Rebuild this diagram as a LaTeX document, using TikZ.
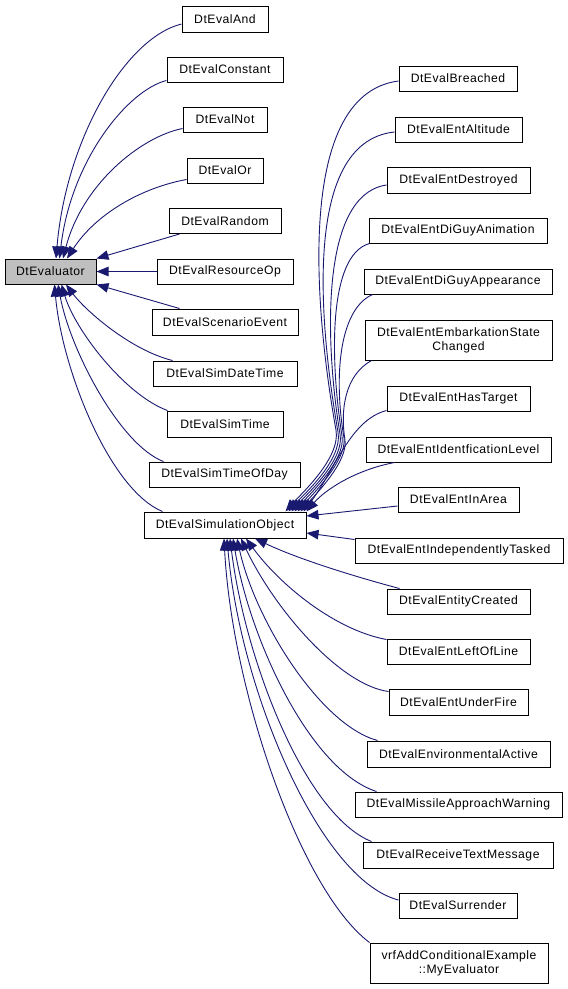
\documentclass[tikz,border=0pt]{standalone}
\usepackage{fontspec}
\setmainfont{Liberation Sans}[LetterSpace=4]
\usetikzlibrary{arrows.meta}
\definecolor{edgecol}{HTML}{191970}
\definecolor{basefill}{HTML}{BFBFBF}
\newcommand\mkbox[6]{\node[bx,minimum width={(#4-#2)*1pt},minimum height={(#5-#3)*1pt}] (#1) at ({(#2+#4)/2},{(#3+#5)/2}) {#6};}
\begin{document}
\begin{tikzpicture}[x=1pt,y=-1pt,
  bx/.style={draw=black,line width=1pt,inner sep=0pt,align=center,fill=white,
    font=\fontsize{12.2}{14.3}\selectfont},
  inh/.style={draw=edgecol,line width=0.9pt,-{Triangle[length=12pt,width=9.5pt]}}]
\useasboundingbox (0,0) rectangle (568,989);
% left column
\node[bx,fill=basefill,minimum width=91pt,minimum height=25pt] (ev) at (50.5,271.5) {DtEvaluator};
\mkbox{and}{182}{6}{268}{32}{DtEvalAnd}
\mkbox{con}{167}{57}{283}{82}{DtEvalConstant}
\mkbox{not}{183}{107}{267}{132}{DtEvalNot}
\mkbox{or}{187}{158}{263}{183}{DtEvalOr}
\mkbox{rnd}{169}{208.5}{281}{233.5}{DtEvalRandom}
\mkbox{rop}{157}{259}{293}{284}{DtEvalResourceOp}
\mkbox{sce}{152}{309}{298}{335}{DtEvalScenarioEvent}
\mkbox{sdt}{153}{361}{297}{386}{DtEvalSimDateTime}
\mkbox{stm}{167}{411}{283}{437}{DtEvalSimTime}
\mkbox{sod}{149}{462}{300}{487}{DtEvalSimTimeOfDay}
\mkbox{so}{144}{512}{306}{538}{DtEvalSimulationObject}
% right column
\mkbox{br}{399}{66}{517}{91}{DtEvalBreached}
\mkbox{alt}{395}{117}{522}{142}{DtEvalEntAltitude}
\mkbox{des}{387}{167}{530}{193}{DtEvalEntDestroyed}
\mkbox{dga}{369}{218}{547}{243}{DtEvalEntDiGuyAnimation}
\mkbox{dgp}{364}{269}{552}{294}{DtEvalEntDiGuyAppearance}
\mkbox{emb}{365}{320}{552}{360}{DtEvalEntEmbarkationState\\Changed}
\mkbox{hst}{387}{386}{530}{411}{DtEvalEntHasTarget}
\mkbox{idl}{366}{437}{551}{462}{DtEvalEntIdentficationLevel}
\mkbox{ina}{398}{487}{519}{512}{DtEvalEntInArea}
\mkbox{ind}{355}{538}{563}{563}{DtEvalEntIndependentlyTasked}
\mkbox{ec}{387}{589}{530}{614}{DtEvalEntityCreated}
\mkbox{lol}{387}{639}{530}{664}{DtEvalEntLeftOfLine}
\mkbox{uf}{389}{689}{528}{715}{DtEvalEntUnderFire}
\mkbox{env}{367}{741}{550}{767}{DtEvalEnvironmentalActive}
\mkbox{mis}{355}{792}{562}{817}{DtEvalMissileApproachWarning}
\mkbox{rtm}{363}{842}{553}{868}{DtEvalReceiveTextMessage}
\mkbox{sur}{399}{893}{517}{918}{DtEvalSurrender}
\mkbox{vrf}{370}{943}{548}{983}{vrfAddConditionalExample\\::MyEvaluator}
% edges to DtEvaluator
\draw[inh] ([yshift=-5pt]and.west) .. controls (125,38) and (66,140) .. ([xshift=5.5pt]ev.north);
\draw[inh] ([yshift=2pt]con.south west) .. controls (128,90) and (71,160) .. ([xshift=9pt]ev.north);
\draw[inh] ([yshift=4pt]not.south west) .. controls (140,137) and (82,185) .. ([xshift=12.5pt]ev.north);
\draw[inh] ([yshift=4pt]or.south west) .. controls (140,188) and (95,215) .. ([xshift=16.5pt]ev.north);
\draw[inh] ([xshift=11pt]rnd.south west) -- (ev.north east);
\draw[inh] (rop.west) -- (ev.east);
\draw[inh] ([xshift=28pt]sce.north west) -- (ev.south east);
\draw[inh] ([xshift=20pt]sdt.north west) .. controls (130,350) and (85,310) .. ([xshift=15.5pt]ev.south);
\draw[inh] ([xshift=1pt]stm.north west) .. controls (125,395) and (75,330) .. ([xshift=11pt]ev.south);
\draw[inh] ([xshift=15pt]sod.north west) .. controls (120,445) and (70,350) .. ([xshift=7.5pt]ev.south);
\draw[inh] ([xshift=19pt]so.north west) .. controls (110,490) and (62,370) .. ([xshift=4pt]ev.south);
% edges to DtEvalSimulationObject (top)
\draw[inh] ([yshift=-2.5pt]br.west) .. controls (290,95) and (318,330) .. (336,430) .. controls (341,458) and (300,495) .. ([xshift=-21pt]so.north east);
\draw[inh] ([yshift=-2.5pt]alt.west) .. controls (298,142) and (322,340) .. (338,432) .. controls (343,460) and (303,495) .. ([xshift=-18pt]so.north east);
\draw[inh] ([yshift=-5pt]des.west) .. controls (318,195) and (326,350) .. (340,434) .. controls (345,460) and (306,495) .. ([xshift=-15pt]so.north east);
\draw[inh] ([xshift=1pt]dga.south west) .. controls (328,255) and (330,360) .. (342,436) .. controls (346,460) and (309,495) .. ([xshift=-12pt]so.north east);
\draw[inh] ([xshift=9pt]dgp.south west) .. controls (338,310) and (334,380) .. (344,438) .. controls (347,460) and (312,495) .. ([xshift=-9pt]so.north east);
\draw[inh] ([xshift=7pt]emb.south west) .. controls (345,375) and (340,410) .. (345,440) .. controls (348,462) and (315,495) .. ([xshift=-6pt]so.north east);
\draw[inh] ([yshift=1pt]hst.south west) .. controls (350,420) and (335,470) .. ([xshift=-3pt]so.north east);
\draw[inh] ([xshift=29pt]idl.south west) .. controls (355,470) and (325,490) .. (so.north east);
\draw[inh] ([yshift=-6.5pt]ina.west) -- ([yshift=9pt]so.east);
\draw[inh] ([yshift=-2pt]ind.north west) -- ([yshift=-8pt]so.east);
% edges to DtEvalSimulationObject (bottom)
\draw[inh] ([xshift=13pt]ec.north west) .. controls (360,578) and (300,560) .. ([xshift=30pt]so.south);
\draw[inh] ([yshift=-1pt]lol.north west) .. controls (335,630) and (280,585) .. ([xshift=21pt]so.south);
\draw[inh] ([yshift=-3pt]uf.north west) .. controls (340,685) and (275,610) .. ([xshift=16pt]so.south);
\draw[inh] ([xshift=11pt]env.north west) .. controls (320,725) and (255,620) .. ([xshift=12pt]so.south);
\draw[inh] ([xshift=22pt]mis.north west) .. controls (310,770) and (250,640) .. ([xshift=8pt]so.south);
\draw[inh] ([xshift=9pt]rtm.north west) .. controls (305,815) and (245,660) .. ([xshift=5pt]so.south);
\draw[inh] ([yshift=5.5pt]sur.west) .. controls (320,880) and (240,690) .. ([xshift=2pt]so.south);
\draw[inh] (vrf.north west) .. controls (300,890) and (232,690) .. ([xshift=-1pt]so.south);
\end{tikzpicture}
\end{document}
